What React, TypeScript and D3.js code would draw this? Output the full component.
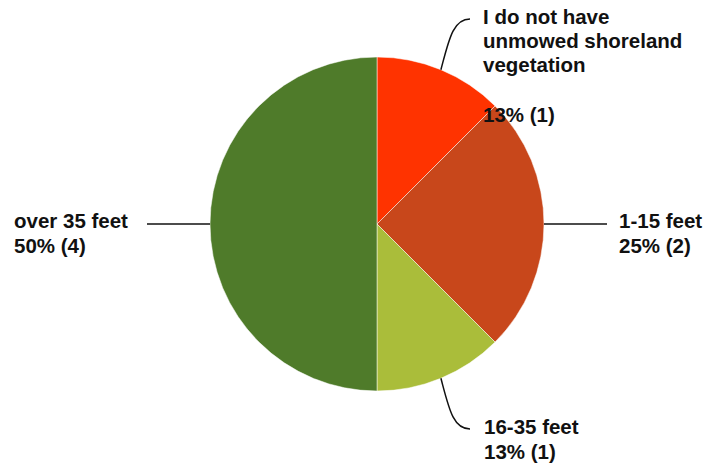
import React from "react";
import * as d3 from "d3";

const categories = [
  "I do not have unmowed shoreland vegetation",
  "1-15 feet",
  "16-35 feet",
  "over 35 feet",
];
const counts = [1, 2, 1, 4];
const percentLabels = ["13% (1)", "25% (2)", "13% (1)", "50% (4)"];
const colors = ["#FF3300", "#C8471B", "#AABD3A", "#4F7B2A"];

const W = 708;
const H = 467;
const cx = 377;
const cy = 224;
const R = 167;

export default function App() {
  const pie = d3.pie<number>().sort(null).value((d) => d);
  const arcs = pie(counts);
  const arcGen = d3.arc<d3.PieArcDatum<number>>().innerRadius(0).outerRadius(R);
  const font = "'Liberation Sans', Arial, sans-serif";

  const edge = (a: d3.PieArcDatum<number>) => {
    const m = (a.startAngle + a.endAngle) / 2;
    return [cx + R * Math.sin(m), cy - R * Math.cos(m)];
  };

  const e0 = edge(arcs[0]);
  const e1 = edge(arcs[1]);
  const e2 = edge(arcs[2]);
  const e3 = edge(arcs[3]);

  const textStyle = { fontFamily: font, fontWeight: 700, fontSize: 20.5, fill: "#111" };

  return (
    <svg width={W} height={H} style={{ position: "absolute", left: 0, top: 0, background: "#fff" }}>
      <g transform={`translate(${cx},${cy})`}>
        {arcs.map((a, i) => (
          <path key={i} d={arcGen(a) || ""} fill={colors[i]} stroke="#fff" strokeWidth={0.5} />
        ))}
      </g>
      {/* connectors */}
      <path d={`M${e0[0]},${e0[1]} C${e0[0] + 8},${e0[1] - 30} ${e0[0] + 12},${19} ${470},${19}`} fill="none" stroke="#111" strokeWidth={1.5} />
      <path d={`M${e1[0]},${e1[1]} L${607},${e1[1]}`} fill="none" stroke="#111" strokeWidth={1.5} />
      <path d={`M${e2[0]},${e2[1]} C${e2[0] + 8},${e2[1] + 30} ${e2[0] + 12},${429} ${470},${429}`} fill="none" stroke="#111" strokeWidth={1.5} />
      <path d={`M${e3[0]},${e3[1]} L${147},${e3[1]}`} fill="none" stroke="#111" strokeWidth={1.5} />

      {/* labels */}
      <text {...textStyle}>
        <tspan x={483} y={24}>I do not have</tspan>
        <tspan x={483} y={48}>unmowed shoreland</tspan>
        <tspan x={483} y={72}>vegetation</tspan>
        <tspan x={483} y={122}>{percentLabels[0]}</tspan>
      </text>
      <text {...textStyle}>
        <tspan x={619} y={228}>{categories[1]}</tspan>
        <tspan x={619} y={253}>{percentLabels[1]}</tspan>
      </text>
      <text {...textStyle}>
        <tspan x={484} y={434}>{categories[2]}</tspan>
        <tspan x={484} y={459}>{percentLabels[2]}</tspan>
      </text>
      <text {...textStyle}>
        <tspan x={14} y={228}>{categories[3]}</tspan>
        <tspan x={14} y={253}>{percentLabels[3]}</tspan>
      </text>
    </svg>
  );
}
